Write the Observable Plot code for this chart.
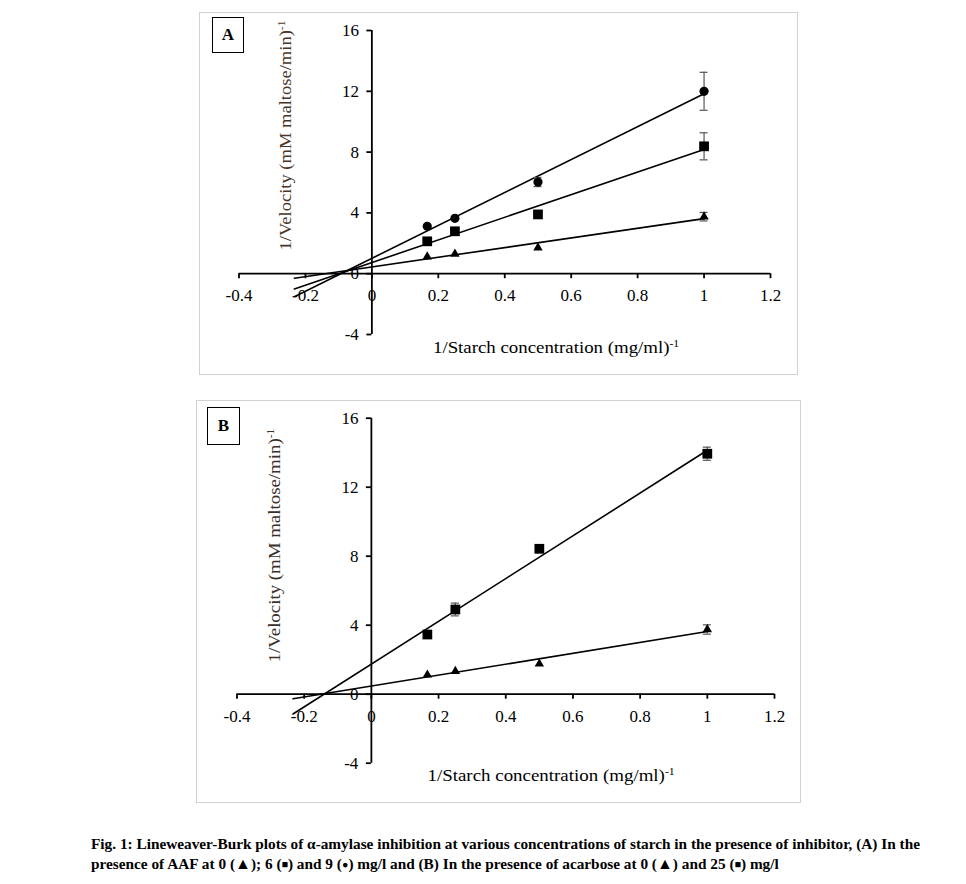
<!DOCTYPE html>
<html><head><meta charset="utf-8">
<script src="https://cdn.jsdelivr.net/npm/d3@7"></script>
<script src="https://cdn.jsdelivr.net/npm/@observablehq/plot@0.6"></script>
<style>
body{margin:0;background:#fff;}
#page{position:relative;width:966px;height:884px;overflow:hidden;font-family:"Liberation Serif","Times New Roman",serif;color:#000;}
.frame{position:absolute;border:1px solid #d2d2d2;box-sizing:border-box;}
.tag{position:absolute;border:1px solid #000;box-sizing:border-box;font-weight:bold;font-size:17px;display:flex;align-items:center;justify-content:center;background:#fff;}
.title{position:absolute;white-space:nowrap;line-height:1;}
.title sup{font-size:62%;vertical-align:0.55em;line-height:0;}
.cap{position:absolute;left:91px;white-space:nowrap;font-weight:bold;font-size:15px;line-height:1;transform-origin:left center;}
.cap .sym{font-size:105%;vertical-align:0;}
.cap .sm{font-size:70%;vertical-align:0.1em;}
svg.plot{position:absolute;left:0;top:0;}
svg.plot text{font-family:"Liberation Serif","Times New Roman",serif;}
</style></head><body><div id="page"></div>
<script>
// ---- data ----
const xTicks = [-0.4, -0.2, 0, 0.2, 0.4, 0.6, 0.8, 1, 1.2];
const yTicks = [-4, 0, 4, 8, 12, 16];
const invS = [1/6, 0.25, 0.5, 1];           // 1/[starch] (mg/ml)^-1
// Panel A – AAF 0, 6, 9 mg/l
const aTri = [1.12, 1.30, 1.71, 3.75];
const aTriErr = [0, 0, 0, 0.28];
const aSq = [2.13, 2.79, 3.90, 8.38];
const aSqErr = [0, 0, 0, 0.89];
const aCirc = [3.12, 3.64, 6.03, 12.0];
const aCircErr = [0, 0, 0.3, 1.25];
// Panel B – acarbose 0, 25 mg/l
const bTri = [1.12, 1.33, 1.76, 3.75];
const bTriErr = [0, 0, 0, 0.27];
const bSq = [3.46, 4.91, 8.43, 13.94];
const bSqErr = [0, 0.37, 0.22, 0.38];
const backwardForecast = 0.4;   // trendline extended backwards (Excel style)

const page = document.getElementById("page");
const FONT = "Liberation Serif, Times New Roman, serif";

function fit(xs, ys) {
  const mx = d3.mean(xs), my = d3.mean(ys);
  const sxy = d3.sum(xs, (x, i) => (x - mx) * (ys[i] - my));
  const sxx = d3.sum(xs, x => (x - mx) ** 2);
  const m = sxy / sxx;
  return {m, c: my - m * mx};
}

function panel({series, top, height, ml, mr, mt, mb}) {
  const lines = series.flatMap((s, k) => {
    const {m, c} = fit(invS, s.ys);
    const x0 = d3.min(invS) - backwardForecast, x1 = d3.max(invS);
    return [{k, x: x0, y: c + m * x0}, {k, x: x1, y: c + m * x1}];
  });
  const errs = series.flatMap(s => invS.map((x, i) => ({x, y: s.ys[i], e: s.err[i]}))).filter(d => d.e > 0);
  const dots = series.map(s => Plot.dot(invS.map((x, i) => ({x, y: s.ys[i]})),
    {x: "x", y: "y", symbol: s.symbol, r: s.r, fill: "#000", stroke: "none"}));
  const ax = {stroke: "#000", strokeWidth: 1.8};
  const txt = {fontSize: 17, fontFamily: FONT, fill: "#000"};
  const svg = Plot.plot({
    width: 966, height,
    marginLeft: ml, marginRight: mr, marginTop: mt, marginBottom: mb,
    x: {domain: [-0.4, 1.2], axis: null},
    y: {domain: [-4, 16], axis: null},
    style: {fontFamily: FONT, background: "transparent", overflow: "visible", color: "#000"},
    marks: [
      Plot.ruleY([0], {x1: -0.4, x2: 1.2, ...ax}),
      Plot.ruleX([0], {y1: -4, y2: 16, ...ax}),
      Plot.ruleX(xTicks, {x: d => d, y1: 0, y2: 0, insetBottom: -5, ...ax}),
      Plot.ruleY(yTicks, {y: d => d, x1: 0, x2: 0, insetLeft: -5, ...ax}),
      Plot.text(xTicks, {x: d => d, y: 0, text: d => String(d), dy: 22, ...txt}),
      Plot.text(yTicks, {x: 0, y: d => d, text: d => String(d), dx: -13, textAnchor: "end", ...txt}),
      Plot.line(lines, {x: "x", y: "y", z: "k", stroke: "#000", strokeWidth: 1.6}),
      Plot.ruleX(errs, {x: "x", y1: d => d.y - d.e, y2: d => d.y + d.e, stroke: "#555", strokeWidth: 1.2}),
      Plot.ruleY(errs, {y: d => d.y - d.e, x1: "x", x2: "x", insetLeft: -4, insetRight: -4, stroke: "#555", strokeWidth: 1.2}),
      Plot.ruleY(errs, {y: d => d.y + d.e, x1: "x", x2: "x", insetLeft: -4, insetRight: -4, stroke: "#555", strokeWidth: 1.2}),
      ...dots
    ]
  });
  svg.classList.add("plot");
  svg.style.top = top + "px";
  return svg;
}

function box(cls, l, t, w, h, html) {
  const d = document.createElement("div");
  d.className = cls;
  Object.assign(d.style, {left: l + "px", top: t + "px", width: w + "px", height: h + "px"});
  if (html) d.innerHTML = html;
  page.appendChild(d);
  return d;
}

function title(html, cx, cy, targetLen, rotate, size, color) {
  const d = document.createElement("div");
  d.className = "title";
  d.innerHTML = html;
  d.style.fontSize = size + "px";
  d.style.color = color;
  page.appendChild(d);
  const w = d.offsetWidth, h = d.offsetHeight;
  d.style.left = (cx - w / 2) + "px";
  d.style.top = (cy - h / 2) + "px";
  const s = targetLen / w;
  d.style.transformOrigin = "center";
  d.style.transform = (rotate ? "rotate(-90deg) " : "") + `scaleX(${s})`;
}

// frames
box("frame", 199, 12, 599, 363);
box("frame", 196, 400, 605, 403);

// plots
page.appendChild(panel({
  series: [
    {ys: aTri, err: aTriErr, symbol: "triangle", r: 3.5},
    {ys: aSq, err: aSqErr, symbol: "square", r: 5.5},
    {ys: aCirc, err: aCircErr, symbol: "circle", r: 4.6}
  ],
  top: 0, height: 390, ml: 238.5, mr: 966 - 770, mt: 30, mb: 390 - 334
}));
page.appendChild(panel({
  series: [
    {ys: bTri, err: bTriErr, symbol: "triangle", r: 3.5},
    {ys: bSq, err: bSqErr, symbol: "square", r: 5.5}
  ],
  top: 0, height: 884, ml: 236.5, mr: 966 - 774, mt: 417.7, mb: 884 - 762.7
}));

// panel tags
box("tag", 212, 17, 32, 36, "A");
box("tag", 207, 407, 33, 38, "B");

// axis titles
const yT = "1/Velocity (mM maltose/min)<sup>-1</sup>";
const xT = "1/Starch concentration (mg/ml)<sup>-1</sup>";
title(yT, 285, 135, 230, true, 17, "#4a3428");
title(yT, 274, 545, 234, true, 17, "#3b3029");
title(xT, 556, 347, 246, false, 17, "#000");
title(xT, 551, 775, 247, false, 17, "#000");

// caption
const tri = '<span class="sym">▲</span>', sq = '<span class="sm">■</span>', dot = '<span class="sm">●</span>';
const cap1 = "Fig. 1: Lineweaver-Burk plots of α-amylase inhibition at various concentrations of starch in the presence of inhibitor, (A) In the";
const cap2 = `presence of AAF at 0 (${tri}); 6 (${sq}) and 9 (${dot}) mg/l and (B) In the presence of acarbose at 0 (${tri}) and 25 (${sq}) mg/l`;
const c1 = document.createElement("div"); c1.className = "cap"; c1.textContent = cap1; page.appendChild(c1);
const c2 = document.createElement("div"); c2.className = "cap"; c2.innerHTML = cap2; page.appendChild(c2);
const sc = 829 / c1.offsetWidth;
[[c1, 844], [c2, 864]].forEach(([c, cy]) => {
  c.style.top = (cy - c.offsetHeight / 2) + "px";
  c.style.transform = `scaleX(${sc})`;
});
</script></body></html>
